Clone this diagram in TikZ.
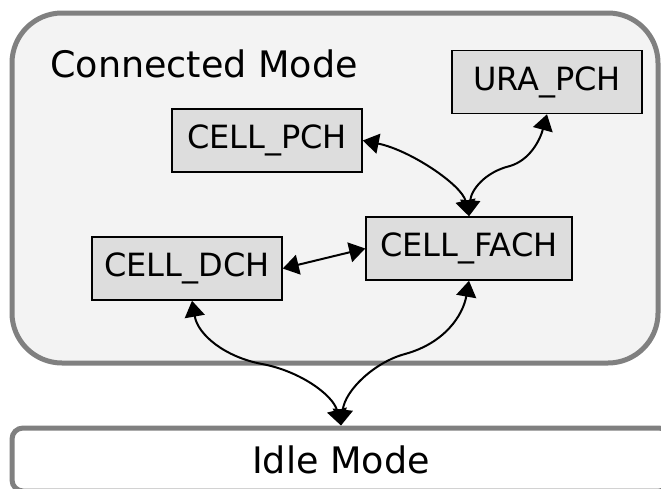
\documentclass[tikz,border=0pt]{standalone}
\usepackage{fontspec}
\setmainfont{DejaVu Sans}
\usetikzlibrary{arrows.meta}
\definecolor{modeline}{RGB}{128,128,128}
\definecolor{modefill}{RGB}{243,243,243}
\definecolor{statefill}{RGB}{221,221,221}
\tikzset{
  state/.style={draw=black, fill=statefill, line width=1.5pt, minimum height=63pt, minimum width=190pt, inner sep=0pt, font=\fontsize{32}{38}\selectfont},
  modelabel/.style={font=\fontsize{36.5}{43}\selectfont, inner sep=0pt},
  trans/.style={{Triangle[length=16pt,width=20pt]}-{Triangle[length=16pt,width=20pt]}, line width=2pt}
}

\begin{document}
\begin{tikzpicture}[x=1pt,y=-1pt]
  \path[use as bounding box, clip] (0,0) rectangle (661,488);
  \draw[draw=modeline, fill=modefill, line width=5pt, rounded corners=50pt] (12,13) rectangle (658,363);
  \node[modelabel, anchor=base west] (conn) at (50,77) {Connected Mode};
  \node[modelabel, draw=modeline, line width=5pt, rounded corners=11pt, minimum width=658pt, minimum height=63pt] (idle) at (341,459.5) {Idle Mode};

  \node[state] (pch) at (267,140.5) {CELL\_PCH};
  \node[state] (ura) at (547,82) {URA\_PCH};
  \node[state] (dch) at (187,268.5) {CELL\_DCH};
  \node[state, minimum width=206pt] (fach) at (469,248.5) {CELL\_FACH};

  \draw[trans] (pch.east) .. controls (410,150) and (462,185) .. (fach.north);
  \draw[trans] (ura.south) .. controls (540,140) and (530,160) .. (510,166) .. controls (485,172) and (471,190) .. (fach.north);
  \draw[trans] (dch.east) -- (fach.west);
  \draw[trans] ([xshift=5pt]dch.south) .. controls (198,335) and (225,357) .. (262,364) .. controls (300,371) and (333,395) .. (idle.north);
  \draw[trans] (fach.south) .. controls (463,315) and (445,343) .. (405,354) .. controls (375,362) and (345,390) .. (idle.north);
\end{tikzpicture}
\end{document}
